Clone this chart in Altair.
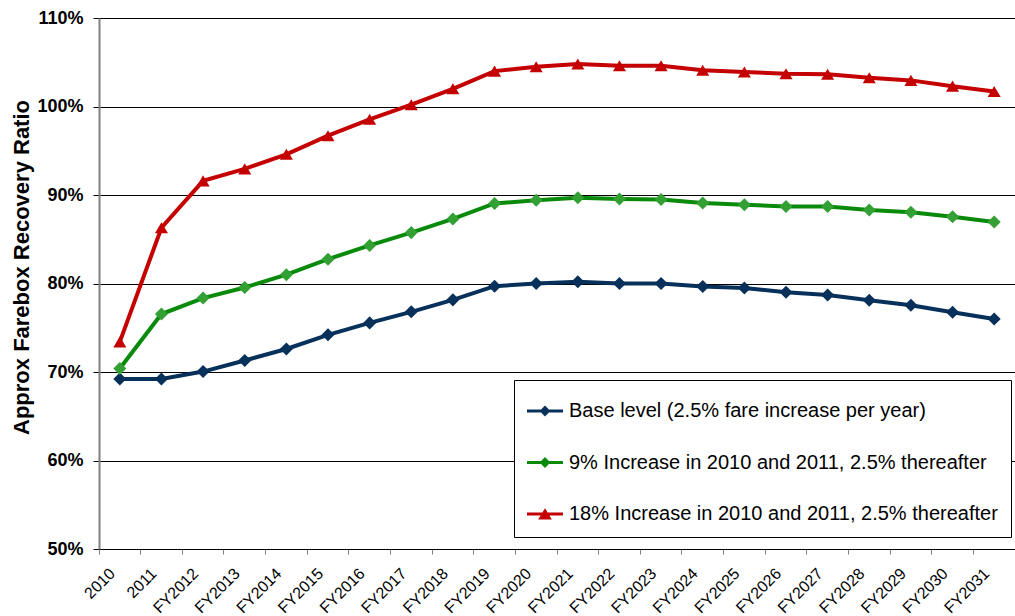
import altair as alt
import pandas as pd

years = ["2010", "2011", "FY2012", "FY2013", "FY2014", "FY2015", "FY2016", "FY2017",
         "FY2018", "FY2019", "FY2020", "FY2021", "FY2022", "FY2023", "FY2024", "FY2025",
         "FY2026", "FY2027", "FY2028", "FY2029", "FY2030", "FY2031"]

series_names = [
    "Base level (2.5% fare increase per year)",
    "9% Increase in 2010 and 2011, 2.5% thereafter",
    "18% Increase in 2010 and 2011, 2.5% thereafter",
]

base_vals = [69.2, 69.2, 70.05, 71.3, 72.6, 74.2, 75.55, 76.8, 78.15, 79.7, 80.0,
             80.2, 80.0, 80.0, 79.65, 79.5, 79.0, 78.7, 78.1, 77.55, 76.75, 76.0]
nine_vals = [70.4, 76.55, 78.35, 79.55, 81.0, 82.75, 84.3, 85.75, 87.3, 89.05, 89.4,
             89.7, 89.55, 89.5, 89.1, 88.9, 88.7, 88.7, 88.3, 88.05, 87.55, 86.95]
eighteen_vals = [73.4, 86.3, 91.6, 92.95, 94.6, 96.7, 98.55, 100.2, 102.0, 104.0, 104.5,
                 104.8, 104.6, 104.6, 104.1, 103.9, 103.7, 103.65, 103.25, 102.95, 102.3, 101.7]

line_colors = ["#07305A", "#0A8A0A", "#C40000"]
marker_colors = ["#07305A", "#33A033", "#C40000"]
marker_paths = ["M0,-1L1,0L0,1L-1,0Z", "M0,-1L1,0L0,1L-1,0Z", "M0,-0.85L1,0.85L-1,0.85Z"]
legend_paths = [
    "M-1,-0.09H1V0.09H-1Z M0,-0.3L0.3,0L0,0.3L-0.3,0Z",
    "M-1,-0.09H1V0.09H-1Z M0,-0.3L0.3,0L0,0.3L-0.3,0Z",
    "M-1,-0.09H1V0.09H-1Z M0,-0.32L0.38,0.3L-0.38,0.3Z",
]
y_ticks = [0.5, 0.6, 0.7, 0.8, 0.9, 1.0, 1.1]

rows = []
for name, vals in zip(series_names, [base_vals, nine_vals, eighteen_vals]):
    for yr, v in zip(years, vals):
        rows.append({"year": yr, "series": name, "value": v / 100.0})
df = pd.DataFrame(rows)

FONT = "Liberation Sans"

x_enc = alt.X(
    "year:N", sort=years, bandPosition=0.5,
    scale=alt.Scale(type="band", domain=years, paddingInner=0, paddingOuter=0),
    axis=alt.Axis(title=None, labelAngle=-45, labelAlign="right", labelBaseline="top",
                  labelFontSize=16, labelFont=FONT, labelColor="black", bandPosition=0,
                  labelOffset=-13, labelPadding=11, tickSize=5, tickColor="#808080",
                  domainColor="black", domainWidth=1, grid=False, labelOverlap=False,
                  labelFlush=False, labelBound=False),
)
y_enc = alt.Y(
    "value:Q",
    scale=alt.Scale(domain=[0.5, 1.1], nice=False, zero=False),
    axis=alt.Axis(values=y_ticks, format=".0%", labelFontSize=18, labelFontWeight="bold",
                  labelFont=FONT, labelColor="black", labelPadding=10, tickSize=6,
                  tickColor="black", domainColor="#808080", domainWidth=2,
                  grid=True, gridColor="black", gridWidth=1,
                  title="Approx Farebox Recovery Ratio", titleFont=FONT, titleFontSize=22,
                  titleFontWeight="bold", titleColor="black", titleAngle=270,
                  titleX=-71, titleY=249, titleAlign="center", titleBaseline="alphabetic"),
)

lines = alt.Chart().mark_line(strokeWidth=4).encode(
    x=x_enc, y=y_enc,
    color=alt.Color("series:N", scale=alt.Scale(domain=series_names, range=line_colors), legend=None),
    detail="series:N",
)

points = alt.Chart().mark_point(filled=True, opacity=1, size=170, strokeWidth=0).encode(
    x=x_enc, y=y_enc,
    color=alt.Color("series:N", scale=alt.Scale(domain=series_names, range=marker_colors), legend=None),
    shape=alt.Shape("series:N", scale=alt.Scale(domain=series_names, range=marker_paths), legend=None),
)

leg = alt.Legend(title=None, orient="none", legendX=415, legendY=362, padding=13,
                 strokeColor="black", fillColor="white", symbolSize=1296,
                 labelFontSize=20, labelFont=FONT, labelColor="black", labelOffset=6,
                 rowPadding=23.5, symbolStrokeWidth=0, labelLimit=700,
                 direction="vertical", symbolOpacity=1)

legend_layer = alt.Chart().mark_point(filled=True, opacity=1, strokeWidth=0).encode(
    x=x_enc, y=y_enc,
    color=alt.Color("series:N", scale=alt.Scale(domain=series_names, range=line_colors), legend=leg),
    shape=alt.Shape("series:N", scale=alt.Scale(domain=series_names, range=legend_paths), legend=leg),
).transform_filter("datum.value > 5")

chart = alt.layer(lines, points, legend_layer, data=df).resolve_scale(
    color="independent", shape="independent"
).properties(
    width=916, height=531,
    autosize=alt.AutoSizeParams(type="none"),
    padding={"left": 99, "top": 18, "right": 0, "bottom": 67},
    background="white",
).configure(font=FONT).configure_view(stroke=None)

chart.save("out.html", embed_options={"renderer": "svg", "actions": False})
